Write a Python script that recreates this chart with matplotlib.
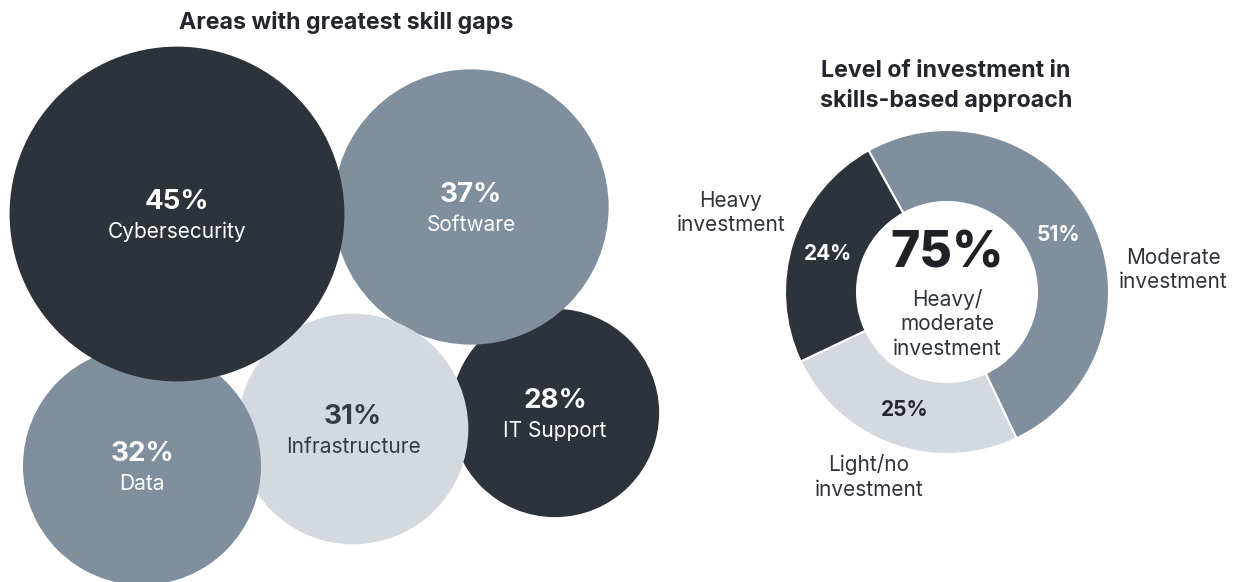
import matplotlib
matplotlib.use("Agg")
import matplotlib.pyplot as plt
from matplotlib.patches import Circle
import numpy as np

plt.rcParams["font.family"] = ["Inter", "DejaVu Sans"]

# --- data ---
GAP_AREAS = ["Cybersecurity", "Software", "Data", "Infrastructure", "IT Support"]
GAP_PCT = [45, 37, 32, 31, 28]

INVEST_LEVELS = ["Moderate\ninvestment", "Light/no\ninvestment", "Heavy\ninvestment"]
INVEST_PCT = [51, 25, 24]
CENTER_PCT = 75
CENTER_LABEL = "Heavy/\nmoderate\ninvestment"

DARK = "#2d333b"
SLATE = "#7f8f9e"
LIGHT = "#d3d9df"
TEXT = "#23272d"

# bubble layout (pixel coords, y down) and drawing order
W, H = 1236, 582
bubble_pos = {
    "Cybersecurity": (177, 214),
    "Software": (471, 207),
    "Data": (142, 466),
    "Infrastructure": (353, 429),
    "IT Support": (555, 413),
}
bubble_col = {
    "Cybersecurity": DARK,
    "Software": SLATE,
    "Data": SLATE,
    "Infrastructure": LIGHT,
    "IT Support": DARK,
}
draw_order = ["IT Support", "Software", "Infrastructure", "Data", "Cybersecurity"]
px_per_pct = 3.72  # bubble radius scale

fig = plt.figure(figsize=(W / 100, H / 100), dpi=100)
ax = fig.add_axes([0, 0, 1, 1])

for name in draw_order:
    v = GAP_PCT[GAP_AREAS.index(name)]
    x, y = bubble_pos[name]
    yy = H - y
    col = bubble_col[name]
    ax.add_patch(Circle((x, yy), v * px_per_pct, color=col, lw=0, zorder=2))
    tc = "white" if col != LIGHT else "#353b43"
    ax.text(x, yy + 12, f"{v}%", ha="center", va="center", color=tc,
            fontsize=20, fontweight="bold", zorder=5)
    ax.text(x, yy - 18, name, ha="center", va="center", color=tc,
            fontsize=15, zorder=5)

ax.text(346, H - 22, "Areas with greatest skill gaps", ha="center", va="center",
        fontsize=16.7, fontweight="bold", color=TEXT)

# --- donut ---
cx, cy, R = 947, H - 292, 162
wedges, _ = ax.pie(INVEST_PCT, colors=[SLATE, LIGHT, DARK], startangle=119,
                   counterclock=False, center=(cx, cy), radius=R,
                   wedgeprops=dict(width=72, edgecolor="white", linewidth=1.5))

ang = 119
pct_r = 0.77 * R
for v, w in zip(INVEST_PCT, wedges):
    mid = np.deg2rad(ang - v * 3.6 / 2)
    ang -= v * 3.6
    tc = TEXT if w.get_facecolor()[0] > 0.7 else "white"
    ax.text(cx + pct_r * np.cos(mid), cy + pct_r * np.sin(mid), f"{v}%",
            ha="center", va="center", color=tc, fontsize=15, fontweight="bold")

# outer labels
label_pos = [(1173, 270), (869, 477), (731, 213)]
for lab, (lx, ly) in zip(INVEST_LEVELS, label_pos):
    ax.text(lx, H - ly, lab, ha="center", va="center", fontsize=15,
            color="#2f343b", linespacing=1.3)

ax.text(cx, H - 254, f"{CENTER_PCT}%", ha="center", va="center",
        fontsize=36, fontweight=800, color="#1e2227")
ax.text(cx, H - 324, CENTER_LABEL, ha="center", va="center", fontsize=15,
        color="#2f343b", linespacing=1.3)

ax.text(946, H - 86, "Level of investment in\nskills-based approach",
        ha="center", va="center", fontsize=16.7, fontweight="bold", color=TEXT,
        linespacing=1.35)

ax.set_xlim(0, W)
ax.set_ylim(0, H)
ax.set_aspect("equal")
ax.axis("off")

fig.savefig("out.png", dpi=100)
